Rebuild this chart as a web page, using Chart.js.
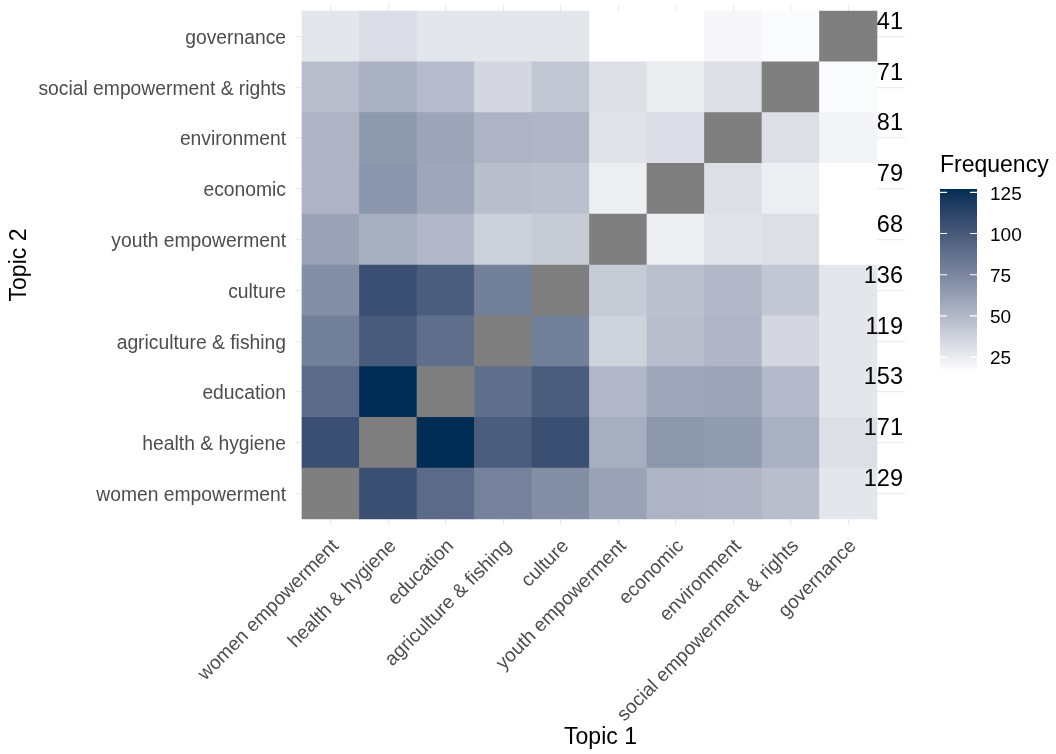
<!DOCTYPE html>
<html>
<head>
<meta charset="utf-8">
<script src="https://cdn.jsdelivr.net/npm/chart.js@4.4.1/dist/chart.umd.min.js"></script>
<style>
  html, body { margin: 0; padding: 0; background: #fff; }
  #wrap { width: 1056px; height: 754px; }
</style>
</head>
<body>
<div id="wrap"><canvas id="heat" width="1056" height="754"></canvas></div>
<script>
// topics, same order on both axes (x: left to right, y: bottom to top)
const topics = ['women empowerment', 'health & hygiene', 'education', 'agriculture & fishing', 'culture',
  'youth empowerment', 'economic', 'environment', 'social empowerment & rights', 'governance'];

// freq[row][col]: row = Topic 2 (bottom to top), col = Topic 1; diagonal is NA
const freq = [
  [null, 106, 91, 78, 71, 61, 52, 51, 47, 28],
  [106, null, 127, 98, 106, 55, 67, 65, 54, 31],
  [91, 127, null, 88, 98, 50, 59, 60, 49, 28],
  [79, 100, 88, null, 79, 37, 47, 51, 35, 28],
  [71, 106, 98, 79, null, 41, 46, 50, 43, 28],
  [61, 55, 50, 38, 41, null, 24, 29, 31, 16],
  [52, 68, 59, 47, 46, 24, null, 31, 24, 16],
  [52, 66, 60, 52, 51, 29, 32, null, 31, 21],
  [47, 54, 48, 35, 43, 31, 25, 31, null, 18],
  [28, 32, 28, 28, 28, 16, 16, 20, 18, null]
];

// numbers printed at the right end of each row
const totals = [129, 171, 153, 119, 136, 68, 79, 81, 71, 41];

const legendTicks = [25, 50, 75, 100, 125];

const LOW = [255, 255, 255];
const HIGH = [0, 45, 83];
const NA_COLOR = '#7f7f7f';
const FONT = '"Liberation Sans", Arial, Helvetica, sans-serif';

// colour ramp in CIELAB, like ggplot's gradient
function toLin(c) { c /= 255; return c <= 0.04045 ? c / 12.92 : Math.pow((c + 0.055) / 1.055, 2.4); }
function fromLin(c) {
  const v = c <= 0.0031308 ? 12.92 * c : 1.055 * Math.pow(c, 1 / 2.4) - 0.055;
  return Math.round(Math.max(0, Math.min(1, v)) * 255);
}
function rgbToLab(rgb) {
  const [r, g, b] = rgb.map(toLin);
  const x = (0.4124 * r + 0.3576 * g + 0.1805 * b) / 0.95047;
  const y = 0.2126 * r + 0.7152 * g + 0.0722 * b;
  const z = (0.0193 * r + 0.1192 * g + 0.9505 * b) / 1.08883;
  const f = t => t > 0.008856 ? Math.cbrt(t) : 7.787 * t + 16 / 116;
  return [116 * f(y) - 16, 500 * (f(x) - f(y)), 200 * (f(y) - f(z))];
}
function labToRgb(lab) {
  const fy = (lab[0] + 16) / 116, fx = fy + lab[1] / 500, fz = fy - lab[2] / 200;
  const inv = t => t > 0.206893 ? t * t * t : (t - 16 / 116) / 7.787;
  const x = inv(fx) * 0.95047, y = inv(fy), z = inv(fz) * 1.08883;
  const r = 3.2406 * x - 1.5372 * y - 0.4986 * z;
  const g = -0.9689 * x + 1.8758 * y + 0.0415 * z;
  const b = 0.0557 * x - 0.2040 * y + 1.0570 * z;
  return [fromLin(r), fromLin(g), fromLin(b)];
}
const labLow = rgbToLab(LOW), labHigh = rgbToLab(HIGH);
const allVals = freq.flat().filter(v => v !== null);
const vMin = Math.min(...allVals), vMax = Math.max(...allVals);
function colorFor(v) {
  if (v === null) return NA_COLOR;
  const t = (v - vMin) / (vMax - vMin);
  const lab = labLow.map((l, i) => l + (labHigh[i] - l) * t);
  const [r, g, b] = labToRgb(lab);
  return `rgb(${r},${g},${b})`;
}

const datasets = freq.map((row, r) => ({
  data: row.map((v, c) => ({ x: c + 1, y: [r + 0.5, r + 1.5] })),
  backgroundColor: row.map(colorFor),
  borderWidth: 0,
  grouped: false,
  barPercentage: 1,
  categoryPercentage: 1
}));

const extras = {
  id: 'extras',
  afterDatasetsDraw(chart) {
    const { ctx, chartArea, scales } = chart;
    ctx.save();
    // row totals
    ctx.fillStyle = '#000';
    ctx.font = '23.5px ' + FONT;
    ctx.textAlign = 'right';
    ctx.textBaseline = 'middle';
    totals.forEach((t, i) => {
      ctx.fillText(String(t), chartArea.right - 2, scales.y.getPixelForValue(i + 1) - 14);
    });
    ctx.restore();
  },
  afterDraw(chart) {
    const { ctx, chartArea } = chart;
    const left = chartArea.right + 35, top = chartArea.top + 184, w = 37, h = 183;
    ctx.save();
    ctx.fillStyle = '#000';
    ctx.font = '23px ' + FONT;
    ctx.textAlign = 'left';
    ctx.textBaseline = 'alphabetic';
    ctx.fillText('Frequency', left, top - 17);
    const grad = ctx.createLinearGradient(0, top, 0, top + h);
    for (let i = 0; i <= 40; i++) {
      grad.addColorStop(i / 40, colorFor(vMax - (vMax - vMin) * i / 40));
    }
    ctx.fillStyle = grad;
    ctx.fillRect(left, top, w, h);
    const yOf = v => top + (vMax - v) / (vMax - vMin) * h;
    ctx.strokeStyle = '#fff';
    ctx.lineWidth = 1.2;
    ctx.font = '19px ' + FONT;
    ctx.textBaseline = 'middle';
    legendTicks.forEach(v => {
      const y = yOf(v);
      ctx.beginPath();
      ctx.moveTo(left, y); ctx.lineTo(left + 7, y);
      ctx.moveTo(left + w - 7, y); ctx.lineTo(left + w, y);
      ctx.stroke();
      ctx.fillStyle = '#000';
      ctx.fillText(String(v), left + 50, y + 2);
    });
    ctx.restore();
  }
};

const gridColor = '#ebebeb';

new Chart(document.getElementById('heat'), {
  type: 'bar',
  data: { datasets },
  options: {
    responsive: false,
    animation: false,
    events: [],
    layout: { padding: { top: 5, right: 151, bottom: 0, left: 0 } },
    plugins: { legend: { display: false }, tooltip: { enabled: false } },
    scales: {
      x: {
        type: 'linear',
        min: 0.396,
        max: 10.987,
        offset: false,
        bounds: 'data',
        grid: { offset: false, color: gridColor, lineWidth: 1.2, drawTicks: false },
        border: { display: false },
        afterBuildTicks: s => { s.ticks = topics.map((t, i) => ({ value: i + 1 })); },
        afterFit: s => { s.height = 229; s.paddingLeft = 0; s.paddingRight = 0; },
        ticks: {
          autoSkip: false,
          minRotation: 45,
          maxRotation: 45,
          padding: 10,
          labelOffset: 5,
          color: '#4d4d4d',
          font: { family: FONT, size: 19.3 },
          callback: v => topics[v - 1]
        },
        title: { display: true, text: 'Topic 1', color: '#000', font: { family: FONT, size: 23 }, padding: { bottom: 3 } }
      },
      y: {
        type: 'linear',
        min: 0.382,
        max: 10.618,
        beginAtZero: false,
        bounds: 'data',
        grid: { color: gridColor, lineWidth: 1.2, drawTicks: false },
        border: { display: false },
        afterBuildTicks: s => { s.ticks = topics.map((t, i) => ({ value: i + 1 })); },
        afterFit: s => { s.width = 296; s.paddingTop = 0; s.paddingBottom = 0; },
        ticks: {
          padding: 10,
          labelOffset: 2,
          color: '#4d4d4d',
          font: { family: FONT, size: 19.3 },
          callback: v => topics[v - 1]
        },
        title: { display: true, text: 'Topic 2', color: '#000', font: { family: FONT, size: 23 }, padding: { top: 6 } }
      }
    }
  },
  plugins: [extras]
});
</script>
</body>
</html>
